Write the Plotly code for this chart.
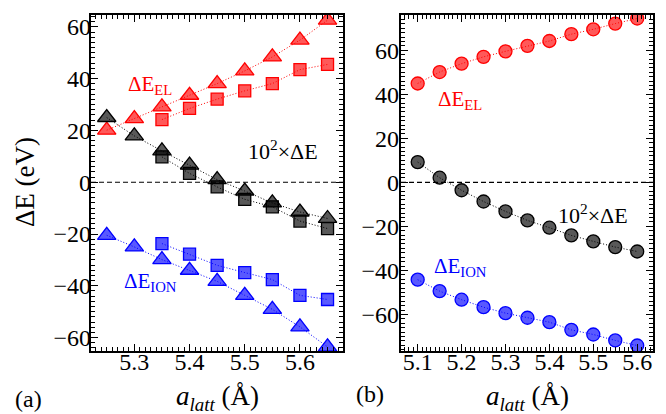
import plotly.graph_objects as go

# ---- panel (a): two structures (triangles / squares) ----
a_tri = [5.25, 5.30, 5.35, 5.40, 5.45, 5.50, 5.55, 5.60, 5.65]
a_sq = [5.35, 5.40, 5.45, 5.50, 5.55, 5.60, 5.65]

el_tri = [20.1, 24.6, 29.1, 33.6, 38.1, 43.0, 48.4, 54.9, 62.6]
el_sq = [24.2, 28.5, 32.1, 35.3, 38.1, 43.5, 45.5]
d_tri = [25.0, 17.9, 12.1, 6.6, 1.0, -3.4, -8.0, -11.5, -14.0]
d_sq = [9.8, 3.4, -1.8, -6.6, -9.5, -15.0, -17.9]
ion_tri = [-20.5, -25.0, -29.9, -34.0, -38.3, -43.7, -49.1, -55.9, -63.6]
ion_sq = [-23.7, -27.8, -32.1, -34.9, -37.6, -43.7, -45.3]

# ---- panel (b) ----
a_b = [5.10, 5.15, 5.20, 5.25, 5.30, 5.35, 5.40, 5.45, 5.50, 5.55, 5.60]
el_b = [44.9, 50.1, 53.9, 57.0, 59.5, 62.0, 64.2, 67.3, 69.5, 72.1, 74.4]
d_b = [9.2, 2.1, -3.6, -8.7, -13.2, -17.3, -20.6, -24.1, -26.8, -29.4, -31.4]
ion_b = [-44.2, -49.4, -53.3, -56.7, -59.4, -61.5, -63.5, -67.0, -69.1, -71.8, -74.1]

RED = ("rgb(255,0,0)", "rgba(255,0,0,0.65)")
BLUE = ("rgb(0,0,255)", "rgba(0,0,255,0.65)")
BLACK = ("rgb(0,0,0)", "rgba(0,0,0,0.65)")

FONT = "Liberation Serif"
W, H = 666, 414
BOT, TOP = 63, 15          # plot frame offsets from figure bottom / top (px)
XA_DOM = [91 / W, 343 / W]
XB_DOM = [401 / W, 653 / W]
XA_RNG = [5.2215, 5.678]
XB_RNG = [5.062, 5.636]
YA_RNG = [-65.2, 64.6]
YB_RNG = [-76.6, 76.0]
Y_DOM = [BOT / H, 1 - TOP / H]

fig = go.Figure()


def series(x, y, col, symbol, size, xa, ya):
    line_c, fill_c = col
    fig.add_trace(go.Scatter(
        x=x, y=y, mode="lines+markers", xaxis=xa, yaxis=ya,
        line=dict(color=line_c, width=1, dash="1px,2px"),
        marker=dict(symbol=symbol, size=size, color=fill_c,
                    line=dict(color=line_c, width=1.3)),
        showlegend=False, hoverinfo="skip"))


series(a_tri, el_tri, RED, "triangle-up", 16, "x", "y")
series(a_sq, el_sq, RED, "square", 12, "x", "y")
series(a_tri, d_tri, BLACK, "triangle-up", 16, "x", "y")
series(a_sq, d_sq, BLACK, "square", 12, "x", "y")
series(a_tri, ion_tri, BLUE, "triangle-up", 16, "x", "y")
series(a_sq, ion_sq, BLUE, "square", 12, "x", "y")

series(a_b, el_b, RED, "circle", 13, "x2", "y2")
series(a_b, d_b, BLACK, "circle", 13, "x2", "y2")
series(a_b, ion_b, BLUE, "circle", 13, "x2", "y2")

# empty traces that register the label-only axis pairs
for xa, ya in (("x3", "y3"), ("x4", "y4")):
    fig.add_trace(go.Scatter(x=[], y=[], xaxis=xa, yaxis=ya,
                             showlegend=False, hoverinfo="skip"))

tickfont = dict(family=FONT, size=24, color="black")


# framed axes: inside major + minor ticks on all four sides, no labels
def frame_x(domain, rng, anchor):
    return dict(domain=domain, range=rng, anchor=anchor, showline=True,
                linecolor="black", linewidth=1.6, mirror="allticks",
                ticks="inside", ticklen=7, tickwidth=1.4, tickcolor="black",
                dtick=0.1, tick0=5.0, showticklabels=False, showgrid=False,
                zeroline=False,
                minor=dict(ticks="inside", ticklen=4, dtick=0.01, tick0=5.0,
                           tickcolor="black", tickwidth=1.1, showgrid=False))


def frame_y(rng, anchor):
    return dict(domain=Y_DOM, range=rng, anchor=anchor, showline=True,
                linecolor="black", linewidth=1.6, mirror="allticks",
                ticks="inside", ticklen=7, tickwidth=1.4, tickcolor="black",
                dtick=20, tick0=0, showticklabels=False, showgrid=False,
                zeroline=False,
                minor=dict(ticks="inside", ticklen=4, dtick=2, tick0=0,
                           tickcolor="black", tickwidth=1.1, showgrid=False))


# label-only axes sharing the same scales, set close to the frame
def label_x(over, rng, pos):
    return dict(overlaying=over, range=rng, anchor="free", position=pos,
                side="bottom", showline=False, ticks="", dtick=0.1, tick0=5.0,
                tickformat=".1f", showgrid=False, zeroline=False,
                tickfont=tickfont)


def label_y(over, rng, pos):
    return dict(overlaying=over, range=rng, anchor="free", position=pos,
                side="left", showline=False, ticks="", dtick=20, tick0=0,
                showgrid=False, zeroline=False, tickfont=tickfont)


fig.update_layout(
    width=W, height=H,
    margin=dict(l=0, r=0, t=0, b=0),
    paper_bgcolor="white", plot_bgcolor="white",
    font=dict(family=FONT, color="black"),
    xaxis=frame_x(XA_DOM, XA_RNG, "y"),
    xaxis2=frame_x(XB_DOM, XB_RNG, "y2"),
    yaxis=frame_y(YA_RNG, "x"),
    yaxis2=frame_y(YB_RNG, "x2"),
    xaxis3=label_x("x", XA_RNG, (BOT + 6) / H),
    xaxis4=label_x("x2", XB_RNG, (BOT + 6) / H),
    yaxis3=label_y("y", YA_RNG, 91 / W),
    yaxis4=label_y("y2", YB_RNG, 399 / W),
)

# dashed zero reference in each panel
for xr, yr in (("x domain", "y"), ("x2 domain", "y2")):
    fig.add_shape(type="line", xref=xr, yref=yr, x0=0, x1=1, y0=0, y1=0,
                  line=dict(color="black", width=1.1, dash="5px,3px"))

ann = []


def label(text, x, y, color, size=21, **kw):
    ann.append(dict(text=text, x=x / W, y=1 - y / H, xref="paper",
                    yref="paper", showarrow=False, xanchor="center",
                    yanchor="middle",
                    font=dict(family=FONT, size=size, color=color), **kw))


label("ΔE<sub>EL</sub>", 150, 85, "red")
label("ΔE<sub>ION</sub>", 150, 282, "blue")
label("10<sup>2</sup>×ΔE", 283, 150, "black", size=22)
label("ΔE<sub>EL</sub>", 460, 100, "red")
label("ΔE<sub>ION</sub>", 460, 267, "blue")
label("10<sup>2</sup>×ΔE", 593, 214, "black", size=22)
label("ΔE (eV)", 25, 182, "black", size=27, textangle=-90)
label("<i>a<sub>latt</sub></i> (Å)", 217, 398, "black", size=27)
label("<i>a<sub>latt</sub></i> (Å)", 527, 398, "black", size=27)
label("(a)", 28, 399, "black", size=24)
label("(b)", 370, 394, "black", size=24)
fig.update_layout(annotations=ann)

fig.write_html("out.html")
